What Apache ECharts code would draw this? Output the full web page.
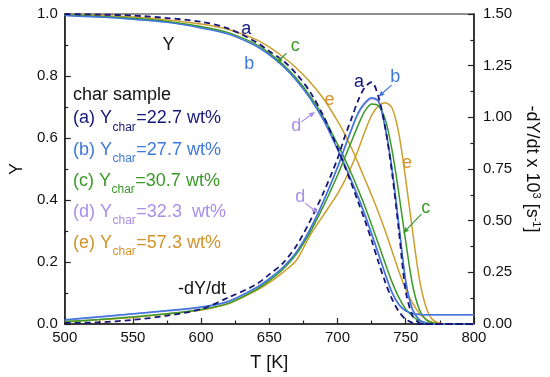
<!DOCTYPE html>
<html><head><meta charset="utf-8">
<script src="https://cdn.jsdelivr.net/npm/echarts@6/dist/echarts.min.js"></script>
<style>html,body{margin:0;padding:0;background:#fff}#c{width:550px;height:377px}</style>
</head><body><div id="c"></div>
<script>
// Temperature grid [K]
const T = [500,525,550,575,600,620,640,650,660,670,680,690,700,705,710,715,720,725,730,735,740,745,750,755,760,765,770,780,800];
// Y (left axis)
const Y_a = [1.0,0.998,0.995,0.987,0.975,0.953,0.91,0.88,0.85,0.806,0.748,0.668,0.568,0.512,0.455,0.395,0.335,0.27,0.2,0.135,0.08,0.04,0.015,0.004,0,0,0,0,0];
const Y_b = [0.995,0.99,0.983,0.973,0.955,0.935,0.897,0.868,0.832,0.785,0.727,0.655,0.563,0.515,0.463,0.41,0.352,0.29,0.225,0.16,0.1,0.062,0.042,0.034,0.031,0.03,0.03,0.03,0.03];
const Y_c = [0.997,0.992,0.986,0.976,0.96,0.94,0.903,0.874,0.838,0.792,0.735,0.665,0.58,0.535,0.487,0.435,0.38,0.32,0.258,0.195,0.135,0.085,0.048,0.025,0.01,0.003,0,0,0];
const Y_d = [0.996,0.991,0.984,0.974,0.956,0.936,0.898,0.869,0.833,0.787,0.729,0.657,0.566,0.518,0.466,0.413,0.355,0.293,0.228,0.163,0.103,0.064,0.043,0.034,0.031,0.03,0.03,0.03,0.03];
const Y_e = [0.998,0.995,0.99,0.981,0.968,0.95,0.918,0.893,0.862,0.825,0.78,0.725,0.655,0.615,0.57,0.52,0.468,0.415,0.36,0.3,0.235,0.17,0.112,0.067,0.035,0.015,0.005,0,0];
// -dY/dt x 10^3 (right axis)
const D_a = [0.005,0.008,0.02,0.04,0.072,0.128,0.19,0.24,0.295,0.38,0.5,0.64,0.8,0.9,0.99,1.08,1.145,1.17,1.1,0.95,0.73,0.45,0.16,0.04,0.005,0,0,0,0];
const D_b = [0.02,0.035,0.05,0.065,0.082,0.11,0.175,0.22,0.275,0.35,0.46,0.6,0.76,0.85,0.94,1.02,1.07,1.095,1.08,0.95,0.75,0.48,0.21,0.07,0.02,0.005,0,0,0];
const D_c = [0.012,0.022,0.035,0.05,0.07,0.1,0.165,0.21,0.265,0.34,0.445,0.575,0.72,0.8,0.88,0.96,1.03,1.065,1.055,0.99,0.84,0.63,0.4,0.19,0.07,0.02,0.005,0,0];
const D_d = [0.018,0.033,0.048,0.063,0.08,0.108,0.172,0.218,0.272,0.348,0.458,0.598,0.755,0.845,0.935,1.015,1.065,1.09,1.075,0.945,0.745,0.475,0.205,0.068,0.02,0.005,0,0,0];
const D_e = [0.01,0.02,0.032,0.048,0.068,0.098,0.16,0.2,0.25,0.31,0.43,0.53,0.63,0.69,0.76,0.84,0.93,1.01,1.055,1.07,1.045,0.92,0.7,0.45,0.22,0.08,0.02,0,0];
// tick labels
const xTicks = ['500','550','600','650','700','750','800'];
const yLeftTicks = ['0.0','0.2','0.4','0.6','0.8','1.0'];
const yRightTicks = ['0.00','0.25','0.50','0.75','1.00','1.25','1.50'];
// legend text
const legLetters = ['a','b','c','d','e'];
const legValues = ['=22.7 wt%','=27.7 wt%','=30.7 wt%','=32.3  wt%','=57.3 wt%'];

const C = {a:'#17177a', b:'#3e78dc', c:'#3a9a28', d:'#a88ee8', e:'#cc9e2c', eT:'#d4922a'};
const FF = '"Liberation Sans", Arial, sans-serif';

const chart = echarts.init(document.getElementById('c'), null, {renderer:'canvas'});

function ser(name, vals, yi, color, dashed, z, w) {
  return {
    name, type:'line', yAxisIndex: yi, z,
    data: T.map((t,i)=>[t, vals[i]]),
    showSymbol:false, symbol:'none', smooth:0.3, silent:true,
    lineStyle:{color, width: w||1.5, type: dashed ? [6,4] : 'solid'}
  };
}

const axisCommon = {
  axisLine:{show:true, lineStyle:{color:'#222', width:1.5}},
  axisTick:{show:true, inside:true, length:6, lineStyle:{color:'#222', width:1.2}},
  minorTick:{show:true, splitNumber:2, length:3.5, lineStyle:{color:'#222', width:1.2}},
  splitLine:{show:false},
  axisLabel:{color:'#111', fontSize:15, fontFamily:FF},
  nameTextStyle:{color:'#111', fontSize:18, fontFamily:FF}
};

chart.setOption({
  animation:false,
  grid:{left:57, right:76, top:14, bottom:53, show:true, borderColor:'#222', borderWidth:1.2, backgroundColor:'transparent'},
  xAxis:Object.assign({}, axisCommon, {
    type:'value', min:500, max:800, interval:50,
    name:'T [K]', nameLocation:'middle', nameGap:30,
    axisLabel:Object.assign({}, axisCommon.axisLabel, {margin:6, formatter:(v)=>xTicks[Math.round((v-500)/50)]})
  }),
  yAxis:[
    Object.assign({}, axisCommon, {
      type:'value', min:0, max:1, interval:0.2, position:'left',
      name:'Y', nameLocation:'middle', nameGap:38, nameRotate:90,
      axisLabel:Object.assign({}, axisCommon.axisLabel, {margin:7, formatter:(v)=>yLeftTicks[Math.round(v/0.2)]})
    }),
    Object.assign({}, axisCommon, {
      type:'value', min:0, max:1.5, interval:0.25, position:'right',
      name:'-dY/dt x 10{sup|3} [s{sup|-1}]', nameLocation:'middle', nameGap:48, nameRotate:-90,
      nameTextStyle:{color:'#111', fontSize:18, fontFamily:FF, rich:{sup:{fontSize:11, fontFamily:FF, color:'#111', padding:[0,0,9,0]}}},
      axisLabel:Object.assign({}, axisCommon.axisLabel, {margin:9, formatter:(v)=>yRightTicks[Math.round(v/0.25)]})
    })
  ],
  series:[
    ser('Yd', Y_d, 0, C.d, false, 2),
    ser('Dd', D_d, 1, C.d, false, 2),
    ser('Ye', Y_e, 0, C.e, false, 3),
    ser('De', D_e, 1, C.e, false, 3),
    ser('Yc', Y_c, 0, C.c, false, 4),
    ser('Dc', D_c, 1, C.c, false, 4),
    ser('Yb', Y_b, 0, C.b, false, 5),
    ser('Db', D_b, 1, C.b, false, 5),
    ser('Ya', Y_a, 0, C.a, true, 6, 1.8),
    ser('Da', D_a, 1, C.a, true, 6, 1.8)
  ]
});

// annotations in data coordinates: [text, yAxisIndex, T, value, color]
const annTexts = [
  ['Y',0,576,0.90,'#111'],
  ['a',0,633,0.952,C.a],
  ['b',0,635.3,0.839,C.b],
  ['c',0,669,0.897,C.c],
  ['d',0,669.8,0.639,C.d],
  ['e',0,694.2,0.723,C.eT],
  ['-dY/dt',1,600.7,0.169,'#111'],
  ['a',1,715.8,1.17,C.a],
  ['b',1,742.4,1.195,C.b],
  ['d',1,672.7,0.615,C.d],
  ['e',1,751,0.78,C.eT],
  ['c',1,764.7,0.56,C.c]
];
// arrows: [yAxisIndex, fromT, fromV, toT, toV, color]
const annArrows = [
  [0,662.6,0.874,655.4,0.842,C.c],
  [0,673.4,0.652,683.5,0.684,C.d],
  [1,739.6,1.156,730,1.10,C.b],
  [1,676.3,0.585,685.6,0.537,C.d],
  [1,761.6,0.532,748,0.439,C.c]
];

function px(yi,t,v){ return chart.convertToPixel({xAxisIndex:0, yAxisIndex:yi},[t,v]); }
const g = [];
annTexts.forEach(a=>{
  const p = px(a[1],a[2],a[3]);
  g.push({type:'text', x:p[0], y:p[1], silent:true, z:100,
    style:{text:a[0], fill:a[4], font:'18px '+FF, align:'center', verticalAlign:'middle', textAlign:'center', textVerticalAlign:'middle'}});
});
annArrows.forEach(a=>{
  const p1 = px(a[0],a[1],a[2]), p2 = px(a[0],a[3],a[4]);
  const dx=p2[0]-p1[0], dy=p2[1]-p1[1], L=Math.hypot(dx,dy), ux=dx/L, uy=dy/L;
  const hl=6, hw=2.6;
  const bx=p2[0]-ux*hl, by=p2[1]-uy*hl;
  g.push({type:'line', silent:true, z:100, shape:{x1:p1[0],y1:p1[1],x2:bx,y2:by}, style:{stroke:a[5], lineWidth:1.2}});
  g.push({type:'polygon', silent:true, z:100, shape:{points:[[p2[0],p2[1]],[bx-uy*hw,by+ux*hw],[bx+uy*hw,by-ux*hw]]}, style:{fill:a[5]}});
});

// legend block
const ctx = document.createElement('canvas').getContext('2d');
function tw(s,size){ ctx.font = size+'px '+FF; return ctx.measureText(s).width; }
const lx = 73;
g.push({type:'text', x:lx, y:95, silent:true, z:100, style:{text:'char sample', fill:'#111', font:'18px '+FF, align:'left', verticalAlign:'middle', textAlign:'left', textVerticalAlign:'middle'}});
const legY = [118.5,150,181,212,243];
legLetters.forEach((L,i)=>{
  const col = C[L==='e'?'eT':L];
  const t1 = '('+L+') Y';
  const w1 = tw(t1,18), w2 = tw('char',12);
  g.push({type:'text', x:lx, y:legY[i], silent:true, z:100, style:{text:t1, fill:col, font:'18px '+FF, align:'left', verticalAlign:'middle', textAlign:'left', textVerticalAlign:'middle'}});
  g.push({type:'text', x:lx+w1+0.5, y:legY[i]+9, silent:true, z:100, style:{text:'char', fill:col, font:'12px '+FF, align:'left', verticalAlign:'middle', textAlign:'left', textVerticalAlign:'middle'}});
  g.push({type:'text', x:lx+w1+w2+1, y:legY[i], silent:true, z:100, style:{text:legValues[i], fill:col, font:'18px '+FF, align:'left', verticalAlign:'middle', textAlign:'left', textVerticalAlign:'middle'}});
});
chart.setOption({graphic:g});
</script></body></html>
